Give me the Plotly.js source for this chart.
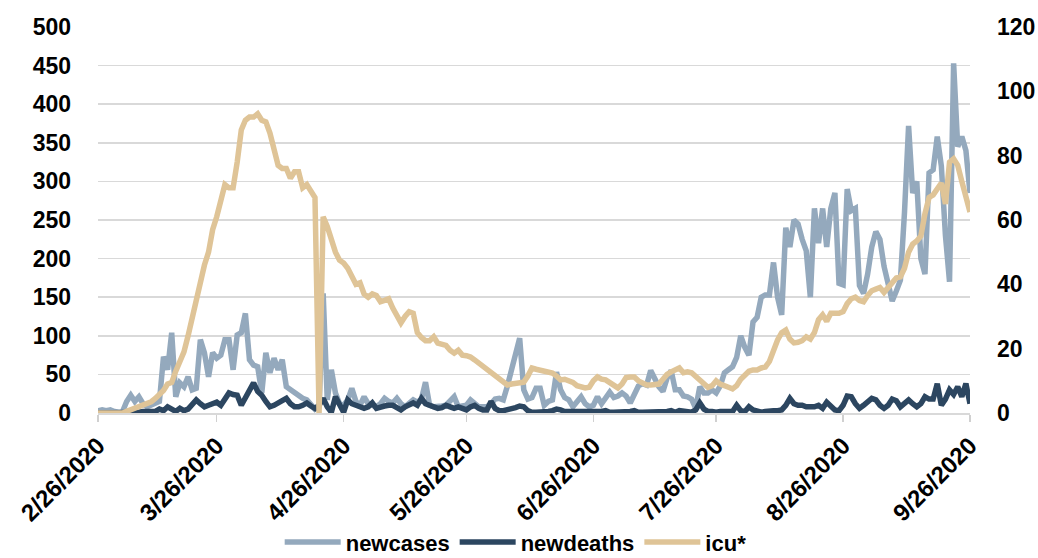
<!DOCTYPE html>
<html>
<head>
<meta charset="utf-8">
<script src="https://cdn.plot.ly/plotly-3.0.1.min.js"></script>
<style>
html,body{margin:0;padding:0;background:#fff;}
#chart{width:1038px;height:558px;}
</style>
</head>
<body>
<div id="chart"></div>
<script>
// daily series, 2/26/2020 .. 9/26/2020
const startDate = '2020-02-26';
const dayCount = 214;

const newcases = [
3,4,3,4,2,1,2,15,23,15,
21,12,8,10,12,15,73,56,104,21,
39,34,47,30,32,95,78,47,78,71,
75,95,95,56,101,104,129,69,62,60,
26,78,52,71,56,69,34,30,27,22,
19,17,10,5,8,155,17,56,26,12,
10,17,32,15,10,21,12,10,8,12,
19,15,13,19,12,8,12,17,14,18,
40,10,8,8,9,10,15,21,8,9,
10,17,12,8,8,8,12,18,19,17,
35,55,75,97,30,18,20,32,32,10,
15,17,53,30,20,17,8,15,21,12,
8,10,21,12,20,27,20,22,26,22,
13,25,35,38,36,55,45,34,28,45,
55,30,30,22,21,18,6,34,26,26,
30,26,35,52,56,60,72,100,85,75,
118,124,150,153,153,195,150,127,240,215,
250,245,225,210,150,265,220,265,215,265,
285,168,166,290,262,265,165,155,180,215,
235,225,190,170,145,158,172,260,372,285,
300,200,180,311,315,358,320,230,170,453,
345,358,340,285
];

const newdeaths = [
0,0,0,0,0,0,0,0,0,0,
1,2,2,3,2,5,3,8,4,2,
6,3,5,12,17,12,8,10,12,14,
10,18,26,24,23,10,21,28,39,28,
23,15,8,10,14,16,19,12,8,8,
10,13,9,6,10,19,8,1,21,10,
1,17,12,10,8,6,8,13,6,8,
9,10,10,7,4,8,10,13,10,19,
12,10,8,6,7,10,8,6,8,6,
4,8,10,6,4,4,15,6,3,3,
4,5,7,9,8,3,1,1,1,1,
2,3,5,4,2,2,2,1,2,1,
1,1,1,2,3,1,1,1,1,1,
2,3,1,1,1,1,1,1,1,2,
3,1,3,2,1,1,4,13,5,2,
2,1,2,2,1,2,10,3,2,8,
4,2,1,2,3,3,3,4,10,19,
12,10,10,8,8,8,10,6,14,8,
4,3,10,22,21,12,6,10,14,19,
17,10,6,10,18,16,8,12,17,12,
8,12,21,18,18,38,10,18,30,24,
34,21,38,12
];

const icu = [
0,0,0,0,0,0,0,0.5,1,1.5,
2,2.5,3,3.5,4.5,5.5,7,9,9.5,13,
16.5,19,24,30,34,40,46,50,57,61,
66,71,70,70,78,88,91,92,92,93,
91,90.5,87,81,77,76,76,73,75,75,
70,71,69,67,0,61,58,54,50,47.5,
46.6,45,42,40,40.5,37,36,37,36.5,34.6,
35,35.5,32.6,30,28,30,31.5,31,25,23.5,
22.5,22.5,23.7,21.7,21.5,21,19.5,18.6,19.5,18,
17.8,17.4,16.5,15.5,14.5,13.4,12.5,11.5,10.5,9.6,
8.7,9,9.2,9.4,9.6,11.5,14,13.6,13.4,13.2,
13,12.4,11.5,10.3,10.5,10,9.5,8.5,8,7.8,
8,10,11.2,10.5,10.3,9.5,8.5,7.8,9,11,
11.2,11.2,10,9.5,8.7,8.7,8.7,9,10.5,12,
12.8,13.5,14,12.5,12.8,12.5,11.5,10.3,9,8,
8.5,10,9,8.3,8,7.5,8.5,10.5,12,13,
13.4,13.4,14,14.3,16,19.5,22.7,25,25.8,23,
21.8,22,22.5,23.7,23,25,29,30.5,28.5,31,
31,31,31.5,34,35.5,36,35,34.6,36.5,38,
38.5,39,37.5,39,41,42,42.3,45,50,52.5,
53.5,55,62,67,67.8,69.5,71.5,65,78,79,
77,72,67,62.5
];

const tickDates = ['2020-02-26','2020-03-26','2020-04-26','2020-05-26','2020-06-26','2020-07-26','2020-08-26','2020-09-26'];
const tickLabels = ['2/26/2020','3/26/2020','4/26/2020','5/26/2020','6/26/2020','7/26/2020','8/26/2020','9/26/2020'];
const leftTicks = [0,50,100,150,200,250,300,350,400,450,500];
const rightTicks = [0,20,40,60,80,100,120];

// build the date axis (one entry per day)
const dates = [];
const d0 = new Date(startDate + 'T00:00:00Z');
for (let i = 0; i < dayCount; i++) {
  const d = new Date(d0.getTime() + i * 86400000);
  dates.push(d.toISOString().slice(0, 10));
}

const FONT = 'Liberation Sans, Arial, sans-serif';
const yFont = {family: FONT, size: 23, color: '#000', weight: 'bold'};
const xFont = {family: FONT, size: 24, color: '#000', weight: 'bold'};

const traces = [
  {x: dates, y: newcases, name: 'newcases', type: 'scatter', mode: 'lines',
   line: {color: '#94A9BD', width: 5.5}, yaxis: 'y'},
  {x: dates, y: newdeaths, name: 'newdeaths', type: 'scatter', mode: 'lines',
   line: {color: '#2C4660', width: 5.5}, yaxis: 'y'},
  {x: dates, y: icu, name: 'icu*', type: 'scatter', mode: 'lines',
   line: {color: '#DFC497', width: 5.5}, yaxis: 'y2'}
];

const layout = {
  width: 1038, height: 558,
  margin: {l: 98, r: 68, t: 27, b: 145, pad: 0, autoexpand: false},
  paper_bgcolor: '#fff', plot_bgcolor: '#fff',
  showlegend: true,
  legend: {
    orientation: 'h', xref: 'paper', yref: 'paper',
    x: 0.479, xanchor: 'center', y: -0.335, yanchor: 'middle',
    font: {family: FONT, size: 22, color: '#000', weight: 'bold'},
    itemwidth: 56, traceorder: 'normal', tracegroupgap: 0
  },
  xaxis: {
    type: 'date', range: ['2020-02-26', '2020-09-26'],
    tickvals: tickDates, ticktext: tickLabels, tickangle: -45,
    tickfont: xFont, ticks: 'outside', ticklen: 7, tickwidth: 1.5, tickcolor: '#d0d0d0',
    showgrid: false, showline: true, linecolor: '#d9d9d9', linewidth: 2,
    zeroline: false, fixedrange: true
  },
  yaxis: {
    range: [0, 500], tickvals: leftTicks, tickfont: yFont,
    showgrid: true, gridcolor: '#d9d9d9', gridwidth: 1.5,
    zeroline: false, showline: false, ticks: '', ticklabelstandoff: 26,
    fixedrange: true
  },
  yaxis2: {
    range: [0, 120], tickvals: rightTicks, tickfont: yFont,
    overlaying: 'y', side: 'right', showgrid: false, zeroline: false,
    showline: false, ticks: '', ticklabelstandoff: 26, fixedrange: true
  }
};

Plotly.newPlot('chart', traces, layout, {displayModeBar: false, staticPlot: true});
</script>
</body>
</html>
